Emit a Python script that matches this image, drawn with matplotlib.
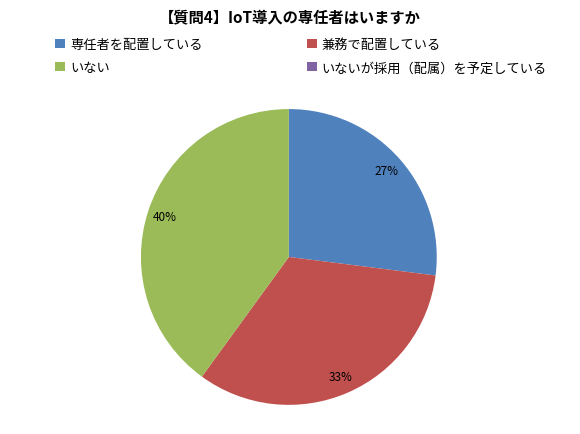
import matplotlib.pyplot as plt
from matplotlib.patches import Patch

plt.rcParams['font.family'] = ['Noto Sans CJK JP', 'DejaVu Sans']

# データ
labels = ['専任者を配置している', '兼務で配置している', 'いない', 'いないが採用（配属）を予定している']
values = [27, 33, 40, 0]
colors = ['#4F81BD', '#C0504D', '#9BBB59', '#8064A2']

fig = plt.figure(figsize=(5.8, 4.35), dpi=100)
ax = fig.add_axes([0.243, 0.067, 0.51, 0.68])

def pct(p):
    return '' if p < 0.5 else '%d%%' % round(p)

wedges, texts, autotexts = ax.pie(values, colors=colors, startangle=90, counterclock=False,
                                  autopct=pct, pctdistance=0.88,
                                  textprops={'fontsize': 8.5, 'color': 'black'})
ax.set_xlim(-1, 1)
ax.set_ylim(-1, 1)
ax.set_aspect('equal')

# タイトル
fig.text(0.5, 0.96, '【質問4】IoT導入の専任者はいますか', ha='center', va='center',
         fontsize=11, fontweight='bold')

# 凡例（行優先に並べ替え）
handles = [Patch(facecolor=c) for c in colors]
order = [0, 2, 1, 3]
fig.legend([handles[i] for i in order], [labels[i] for i in order], ncol=2,
           loc='upper left', bbox_to_anchor=(0.075, 0.938), frameon=False,
           fontsize=9.5, handlelength=0.7, handleheight=0.7, handletextpad=0.4,
           columnspacing=7.95, labelspacing=0.8)

fig.savefig('out.png', dpi=100)
